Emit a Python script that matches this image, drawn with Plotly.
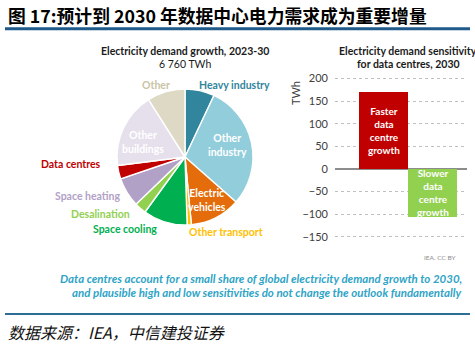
import plotly.graph_objects as go

W, H = 475, 346

# ---- data ----
pie_labels = ["Heavy industry", "Other industry", "Electric vehicles", "Other transport",
              "Space cooling", "Desalination", "Space heating", "Data centres",
              "Other buildings", "Other"]
pie_values = [7.0, 29.5, 12.0, 1.0, 10.5, 2.8, 7.0, 3.2, 18.0, 9.0]
pie_colors = ["#31859C", "#92CDDC", "#E46C0A", "#FFC000", "#00B050", "#92D050",
              "#B2A1C7", "#C00000", "#E6E0EC", "#DDD9C4"]

bar_names = ["Faster<br>data<br>centre<br>growth", "Slower<br>data<br>centre<br>growth"]
bar_pos = [1, 2]
bar_values = [170, -105]
bar_colors = ["#C00000", "#92D050"]
y_ticks = [-150, -100, -50, 0, 50, 100, 150, 200]


def px(x):
    return x / W


def py(y):
    return 1 - y / H


fig = go.Figure()

# pie
cx, cy, r = 185, 157, 68
fig.add_trace(go.Pie(
    labels=pie_labels, values=pie_values, sort=False, direction="clockwise", rotation=0,
    marker=dict(colors=pie_colors, line=dict(color="white", width=1.4)),
    textinfo="none", hoverinfo="label+value", showlegend=False,
    domain=dict(x=[px(cx - r), px(cx + r)], y=[py(cy + r), py(cy - r)]),
))

# bars
fig.add_trace(go.Bar(
    x=bar_pos, y=bar_values, width=1.0, marker=dict(color=bar_colors, line=dict(width=0)),
    showlegend=False, xaxis="x", yaxis="y",
))

FONT = "Lato"
ann = []

def A(text, x, y, size=10, color="#262626", xanchor="center", bold=False, **kw):
    t = f"<b>{text}</b>" if bold else text
    ann.append(dict(text=t, x=px(x), y=py(y), xref="paper", yref="paper", showarrow=False,
                    xanchor=xanchor, yanchor="middle",
                    font=dict(family=FONT, size=size, color=color), **kw))

# pie titles
A("Electricity demand growth, 2023-30", 185, 51, size=10.5, color="#1a1a1a", bold=True)
A("6 760 TWh", 185, 64, size=10.5, color="#1a1a1a")

# pie labels
A("Heavy industry", 197, 85, size=10.5, color="#31859C", xanchor="left", bold=True)
A("Other", 156, 85, size=10.5, color="#C9C3A6", bold=True)
A("Other<br>industry", 227, 145, size=10.5, color="white", bold=True)
A("Other<br>buildings", 143, 142, size=10.5, color="white", bold=True)
A("Electric<br>vehicles", 207, 200, size=10.5, color="white", bold=True)
A("Data centres", 103, 164, size=10.5, color="#C00000", xanchor="right", bold=True)
A("Space heating", 123, 196, size=10.5, color="#B2A1C7", xanchor="right", bold=True)
A("Desalination", 132, 214, size=10.5, color="#92D050", xanchor="right", bold=True)
A("Space cooling", 159, 229, size=10.5, color="#00B050", xanchor="right", bold=True)
A("Other transport", 187, 232, size=10.5, color="#FFC000", xanchor="left", bold=True)

# bar titles
A("Electricity demand sensitivity", 408, 51, size=10.5, color="#1a1a1a", bold=True)
A("for data centres, 2030", 408, 64, size=10.5, color="#1a1a1a", bold=True)
A("TWh", 295, 93, size=11, color="#404040", textangle=-90)

# bar texts via data coordinates
for xv, yv, t in zip(bar_pos, bar_values, bar_names):
    ann.append(dict(text=f"<b>{t}</b>", x=xv, y=yv / 2, xref="x", yref="y", showarrow=False,
                    font=dict(family=FONT, size=10, color="white")))

A("IEA. CC BY", 458, 257, size=6.5, color="#8c8c8c", xanchor="right")
A("Data centres account for a small share of global electricity demand growth to 2030,",
  464, 278, size=11.5, color="#2FA4C6", xanchor="right", bold=True)
A("and plausible high and low sensitivities do not change the outlook fundamentally",
  464, 292, size=11.5, color="#2FA4C6", xanchor="right", bold=True)
for a in ann[-2:]:
    a["font"]["style"] = "italic"

# main title and source
ann.append(dict(text="<b>图 17:预计到 2030 年数据中心电力需求成为重要增量</b>", x=px(6), y=py(15),
                xref="paper", yref="paper", showarrow=False, xanchor="left", yanchor="middle",
                font=dict(family="Noto Sans CJK SC", size=17.8, color="black")))
ann.append(dict(text="数据来源：IEA，中信建投证券", x=px(6), y=py(332),
                xref="paper", yref="paper", showarrow=False, xanchor="left", yanchor="middle",
                font=dict(family="Noto Sans CJK SC", size=16, color="#111111", style="italic")))

shapes = [
    dict(type="line", xref="paper", yref="paper", x0=px(5), x1=px(470), y0=py(28.7), y1=py(28.7),
         line=dict(color="#1F5A8A", width=3)),
    dict(type="line", xref="paper", yref="paper", x0=px(5), x1=px(470), y0=py(314), y1=py(314),
         line=dict(color="#2E6E96", width=2)),
]

fig.update_layout(
    width=W, height=H, margin=dict(l=0, r=0, t=0, b=0),
    paper_bgcolor="white", plot_bgcolor="white",
    annotations=ann, shapes=shapes, bargap=0,
    xaxis=dict(domain=[px(335), px(467)], range=[0, 2.7], showticklabels=False, showgrid=False,
               zeroline=False, showline=False, ticks=""),
    yaxis=dict(domain=[py(248), py(71.8)], range=[-175, 215], tickvals=y_ticks,
               showgrid=True, gridcolor="#BFBFBF", griddash="dot", gridwidth=1,
               zeroline=True, zerolinecolor="#8C8C8C", zerolinewidth=2,
               tickfont=dict(family=FONT, size=11, color="#404040"), ticklabelstandoff=6,
               showline=False),
)

fig.write_html("out.html")
